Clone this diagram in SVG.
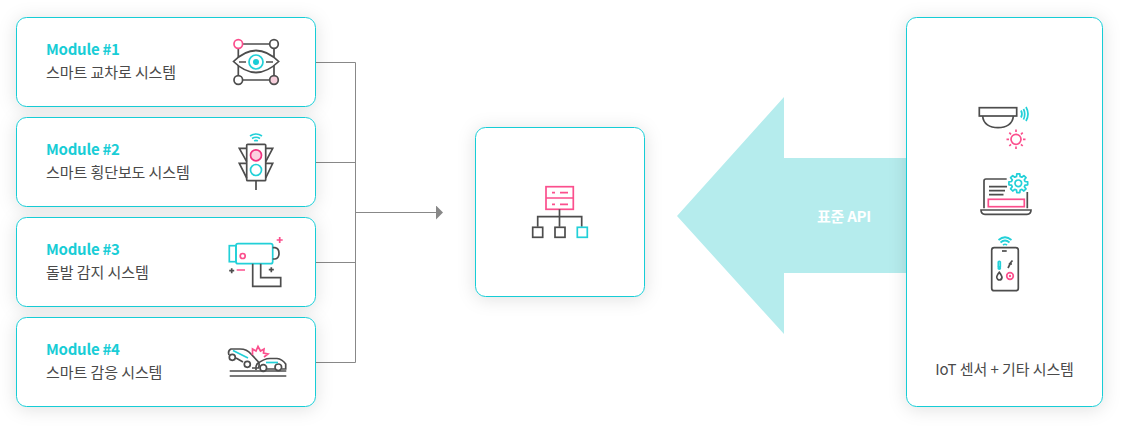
<svg xmlns="http://www.w3.org/2000/svg" width="1127" height="430" viewBox="0 0 1127 430">
<style>
.box{fill:#fff;stroke:#19cdd6;stroke-width:1;filter:url(#sh)}
.t{font-family:"Noto Sans CJK KR","Noto Sans",sans-serif;font-size:15px;fill:#4a4a4a;letter-spacing:-.08px}
.m{font-family:"Noto Sans CJK KR","Noto Sans",sans-serif;font-size:15px;font-weight:700;fill:#19cdd6;letter-spacing:-.25px}
.d{fill:none;stroke:#4d4d4d;stroke-width:1.7}
.c{fill:none;stroke:#22d0d8;stroke-width:1.7}
.p{fill:none;stroke:#fb4f8d;stroke-width:1.7}
.cn{fill:none;stroke:#888;stroke-width:1}
</style>
<defs>
<filter id="sh" x="-25%" y="-50%" width="150%" height="200%"><feDropShadow dx="0" dy="2" stdDeviation="9" flood-color="#000" flood-opacity=".12"/></filter>
<marker id="ah" markerUnits="userSpaceOnUse" markerWidth="8" markerHeight="14" refX="0" refY="7" orient="auto"><path d="M0 0L7 7L0 14z" fill="#888"/></marker>
</defs>
<g id="api-arrow"><polygon points="677,216 784,97 784,158 906,158 906,273 784,273 784,334" fill="#b5eced"/><text x="844" y="221.500" text-anchor="middle" font-family="'Noto Sans CJK KR',sans-serif" font-size="15" font-weight="700" fill="#fff" letter-spacing="-.25">표준 API</text></g>
<g id="connectors">
<path class="cn" d="M316 62.500H355.500V362.500H316M316 162.500H355.500M316 262.500H355.500"/>
<path class="cn" d="M355.500 212.500H436" marker-end="url(#ah)"/>
</g>
<g id="module-1"><rect class="box" x="16.500" y="17.500" width="299" height="89" rx="10"/>
<text class="m" x="46" y="55">Module #1</text><text class="t" x="46" y="78">스마트 교차로 시스템</text>
<path class="d" d="M238.300 44H274V80H238.300z"/>
<path d="M233.500 61.500Q256 39.500 278.700 61.500Q256 83.500 233.500 61.500z" fill="#fff" stroke="#4d4d4d" stroke-width="1.700"/>
<path class="d" d="M239 62H246M266 62H273"/>
<circle cx="238.300" cy="44" r="4.300" fill="#fff" stroke="#fb4f8d" stroke-width="1.700"/><circle cx="274" cy="44" r="4.300" fill="#fff" stroke="#4d4d4d" stroke-width="1.700"/><circle cx="238.300" cy="80" r="4.300" fill="#fff" stroke="#4d4d4d" stroke-width="1.700"/><circle cx="274" cy="80" r="4.300" fill="#f7cfdc" stroke="#4d4d4d" stroke-width="1.700"/>
<circle class="c" cx="256" cy="62" r="7"/><circle cx="256" cy="62" r="3" fill="#19cdd6"/></g>
<g id="module-2"><rect class="box" x="16.500" y="117.500" width="299" height="89" rx="10"/>
<text class="m" x="46" y="155">Module #2</text><text class="t" x="46" y="178">스마트 횡단보도 시스템</text>
<path class="d" d="M246.700 161.700L239.300 148.300H246.700M265.700 161.700L272.700 148.300H265.700M246.700 178L239.300 163.300H246.700M265.700 178L272.700 163.300H265.700M256 181V190"/>
<rect class="d" x="246.700" y="144.300" width="19" height="36.400" rx="1"/>
<circle cx="256" cy="155.300" r="5.500" fill="#fbd0df" stroke="#f0327f" stroke-width="1.700"/><circle class="c" cx="256" cy="170" r="5.500"/>
<path class="c" d="M250 136Q256 132 262 136M252 138.500Q256 136 260 138.500M254.200 141Q256 139.800 257.800 141"/></g>
<g id="module-3"><rect class="box" x="16.500" y="217.500" width="299" height="89" rx="10"/>
<text class="m" x="46" y="255">Module #3</text><text class="t" x="46" y="278">돌발 감지 시스템</text>
<rect class="c" x="236" y="243.700" width="36.700" height="20" rx="2"/><rect class="c" x="229.300" y="245.700" width="6.700" height="16"/>
<path class="d" d="M272.700 247.700H275Q279 248.500 279 253.300Q279 258.500 275 259H272.700M252.700 263.700V286.300H280.700V277.700H260.700V263.700M229.200 270.700H234.200M231.700 268.200V273.200M268.800 269.700H273.800M271.300 267.200V272.200"/>
<circle class="p" cx="242.700" cy="256" r="2.500"/><path class="p" d="M236.700 270H245M276.700 240H282.700M279.700 237V243"/></g>
<g id="module-4"><rect class="box" x="16.500" y="317.500" width="299" height="89" rx="10"/>
<text class="m" x="46" y="355">Module #4</text><text class="t" x="46" y="378">스마트 감응 시스템</text>
<path class="d" d="M229.700 371H286.300M229.700 376H286.300"/>
<path class="d" d="M229 355Q227.500 350.500 231 349H240Q247 349 251 354L258 361.500Q260 364 258.500 368H252M243 362L236 358"/>
<circle class="d" cx="232.300" cy="357.300" r="3"/><circle class="d" cx="247.300" cy="364.300" r="3"/>
<path class="c" d="M233 350.500L248 358"/>
<path class="d" d="M256 370Q255.500 366 257 364Q264 358.500 270 358.500H277Q282 359 285.700 364V369H281.500M275 369H266.500"/>
<circle class="d" cx="263.300" cy="368" r="3.300"/><circle class="d" cx="278.300" cy="367.300" r="3.300"/>
<path class="c" d="M266 362.500H278"/>
<path class="p" d="M252.500 355L252.500 349L256 351L258 346.500L260.500 351L264 349L263.500 353L268 354L264 357"/></g>
<g id="center"><rect class="box" x="475.500" y="127.500" width="169" height="169" rx="10"/>
<rect class="p" x="546" y="186.700" width="27.300" height="22.600"/><path class="p" d="M546 198H573.300M552 192.700H555M560 192.700H568M552 204.300H555M560 204.300H568"/>
<path class="d" d="M559.500 209.300V226.700M537.700 226.700V216.700H581.700V226.700"/>
<rect class="d" x="532.700" y="227.300" width="10" height="10"/><rect class="d" x="555" y="227.300" width="10" height="10"/><rect class="c" x="577.300" y="227.300" width="10" height="10"/></g>
<g id="iot"><rect class="box" x="906.500" y="17.500" width="196" height="389" rx="10"/>
<text class="t" x="1004.500" y="375" text-anchor="middle">IoT 센서 + 기타 시스템</text>
<rect class="d" x="979.300" y="107.700" width="37.400" height="8.300"/><path class="d" d="M982.700 116C983 124 990 127.700 998 127.700S1013 124 1013.300 116"/>
<path class="c" d="M1021 110.500Q1023 114 1021 117.500M1023.500 109Q1026 114 1023.500 119.500M1026 107Q1030 114 1026 121"/>
<circle class="p" cx="1016" cy="139.300" r="5"/><path class="p" d="M1016 129.500V132M1016 146.500V149M1006.500 139.300H1009M1023 139.300H1025.500M1009.300 132.600L1011 134.300M1021 144.300L1022.700 146M1022.700 132.600L1021 134.300M1011 144.300L1009.300 146"/>
<path class="d" d="M984 208.300V181Q984 179 986 179H1006.700M1027.300 192V208.300M981 210H1031Q1031 214.300 1027 214.300H985Q981 214.300 981 210zM989 186.700H1007M989 190.700H1005M989 194.700H1003.500"/>
<rect class="p" x="988.300" y="199.300" width="36" height="7.400"/>
<g transform="translate(1018.300 183.300)"><circle class="c" r="3.300" stroke-width="1.400"/><polygon class="c" stroke-width="1.300" stroke-linejoin="round" points="6.760,-1.810 9.380,-1.490 9.380,1.490 6.760,1.810 6.060,3.500 7.690,5.580 5.580,7.690 3.500,6.060 1.810,6.760 1.490,9.380 -1.490,9.380 -1.810,6.760 -3.500,6.060 -5.580,7.690 -7.690,5.580 -6.060,3.500 -6.760,1.810 -9.380,1.490 -9.380,-1.490 -6.760,-1.810 -6.060,-3.500 -7.690,-5.580 -5.580,-7.690 -3.500,-6.060 -1.810,-6.760 -1.490,-9.380 1.490,-9.380 1.810,-6.760 3.500,-6.060 5.580,-7.690 7.690,-5.580 6.060,-3.500"/></g>
<rect class="d" x="991.700" y="247.700" width="26.600" height="43" rx="2.500"/><path class="d" d="M1002 251H1006.700"/>
<path class="c" stroke-width="1.200" d="M998.300 267V262Q999.300 260.500 1000.300 262V267"/><circle cx="999.300" cy="268" r="1.900" fill="#22d0d8"/>
<path class="d" stroke-width="1.200" d="M1008 268L1010 264H1012M1012.500 260.500L1009 264.500"/>
<path class="d" stroke-width="1.200" d="M999.300 272.300Q996.500 276 996.800 277.500Q997.500 280 999.300 280Q1001.500 280 1002 277.500Q1002 276 999.300 272.300z"/>
<circle class="p" cx="1010" cy="276" r="3.300"/><circle cx="1010" cy="276" r="1.200" fill="#fb4f8d"/>
<path class="c" d="M998.500 240Q1005 234.500 1011.500 240M1000.500 242.500Q1005 238.500 1009.500 242.500M1003 245Q1005 243.500 1007 245"/></g>
</svg>
